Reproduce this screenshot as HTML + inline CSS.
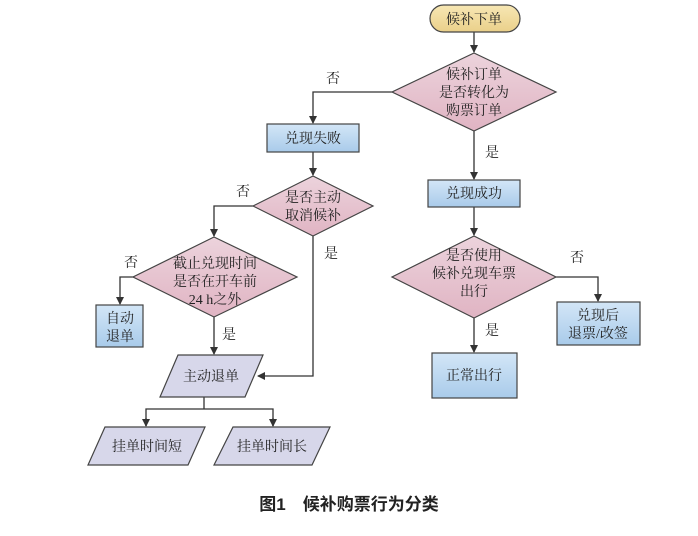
<!DOCTYPE html>
<html><head><meta charset="utf-8"><style>
body{margin:0;background:#fff}
svg text{font-family:"Liberation Serif","Noto Serif CJK SC",serif;font-size:14px;fill:#222;text-anchor:middle}
</style></head><body>
<svg width="698" height="531" viewBox="0 0 698 531" xmlns="http://www.w3.org/2000/svg">
<defs>
<linearGradient id="bl" x1="0" y1="0" x2="0" y2="1"><stop offset="0" stop-color="#d3e6f7"/><stop offset="1" stop-color="#a9cbea"/></linearGradient>
<linearGradient id="pk" x1="0" y1="0" x2="0" y2="1"><stop offset="0" stop-color="#ecd3dc"/><stop offset="1" stop-color="#e0b4c3"/></linearGradient>
<linearGradient id="yl" x1="0" y1="0" x2="0" y2="1"><stop offset="0" stop-color="#f7e7b4"/><stop offset="1" stop-color="#ead08a"/></linearGradient>
<marker id="a" markerWidth="8" markerHeight="8" refX="7" refY="4" orient="auto" markerUnits="userSpaceOnUse"><path d="M0,0 L8,4 L0,8z" fill="#333"/></marker>
</defs>
<g stroke="#333" stroke-width="1.3" fill="none">
<line x1="474" y1="32" x2="474" y2="52" marker-end="url(#a)"/>
<polyline points="392,92 313,92 313,123" marker-end="url(#a)"/>
<line x1="313" y1="152" x2="313" y2="175" marker-end="url(#a)"/>
<polyline points="253,206 214,206 214,236" marker-end="url(#a)"/>
<polyline points="134,277 120,277 120,304" marker-end="url(#a)"/>
<line x1="214" y1="317" x2="214" y2="354" marker-end="url(#a)"/>
<polyline points="313,236 313,376 258,376" marker-end="url(#a)"/>
<polyline points="204,397 204,409"/>
<polyline points="146,426 146,409 273,409 273,426"/>
<line x1="146" y1="418" x2="146" y2="426" marker-end="url(#a)"/>
<line x1="273" y1="418" x2="273" y2="426" marker-end="url(#a)"/>
<line x1="474" y1="131" x2="474" y2="179" marker-end="url(#a)"/>
<line x1="474" y1="207" x2="474" y2="235" marker-end="url(#a)"/>
<polyline points="556,277 598,277 598,301" marker-end="url(#a)"/>
<line x1="474" y1="318" x2="474" y2="352" marker-end="url(#a)"/>
</g>
<g stroke="#444" stroke-width="1.2">
<rect x="430" y="5" width="90" height="27" rx="13.5" fill="url(#yl)"/>
<polygon points="474,53 556,92 474,131 392,92" fill="url(#pk)"/>
<rect x="267" y="124" width="92" height="28" fill="url(#bl)"/>
<polygon points="313,176 373,206 313,236 253,206" fill="url(#pk)"/>
<polygon points="214,237 297,277 214,317 133,277" fill="url(#pk)"/>
<rect x="96" y="305" width="47" height="42" fill="url(#bl)"/>
<polygon points="178,355 263,355 245,397 160,397" fill="#d7d7ea"/>
<polygon points="105,427 205,427 188,465 88,465" fill="#d7d7ea"/>
<polygon points="233,427 330,427 312,465 214,465" fill="#d7d7ea"/>
<rect x="428" y="180" width="92" height="27" fill="url(#bl)"/>
<polygon points="474,236 556,277 474,318 392,277" fill="url(#pk)"/>
<rect x="557" y="302" width="83" height="43" fill="url(#bl)"/>
<rect x="432" y="353" width="85" height="45" fill="url(#bl)"/>
</g>
<text x="474" y="24">候补下单</text>
<text x="474" y="79">候补订单</text><text x="474" y="97">是否转化为</text><text x="474" y="115">购票订单</text>
<text x="313" y="143">兑现失败</text>
<text x="313" y="202">是否主动</text><text x="313" y="220">取消候补</text>
<text x="215" y="268">截止兑现时间</text><text x="215" y="286">是否在开车前</text><text x="215" y="304">24 h之外</text>
<text x="120" y="323">自动</text><text x="120" y="341">退单</text>
<text x="211" y="381">主动退单</text>
<text x="147" y="451">挂单时间短</text>
<text x="272" y="451">挂单时间长</text>
<text x="474" y="198">兑现成功</text>
<text x="474" y="260">是否使用</text><text x="474" y="278">候补兑现车票</text><text x="474" y="296">出行</text>
<text x="598" y="320">兑现后</text><text x="598" y="338">退票/改签</text>
<text x="474" y="380">正常出行</text>
<text x="333" y="83">否</text>
<text x="243" y="196">否</text>
<text x="131" y="267">否</text>
<text x="229" y="339">是</text>
<text x="331" y="258">是</text>
<text x="492" y="157">是</text>
<text x="577" y="262">否</text>
<text x="492" y="335">是</text>
<text x="349" y="510" style="font-size:17px;font-weight:bold;font-family:'Liberation Sans','Noto Sans CJK SC',sans-serif">图1　候补购票行为分类</text>
</svg>
</body></html>
